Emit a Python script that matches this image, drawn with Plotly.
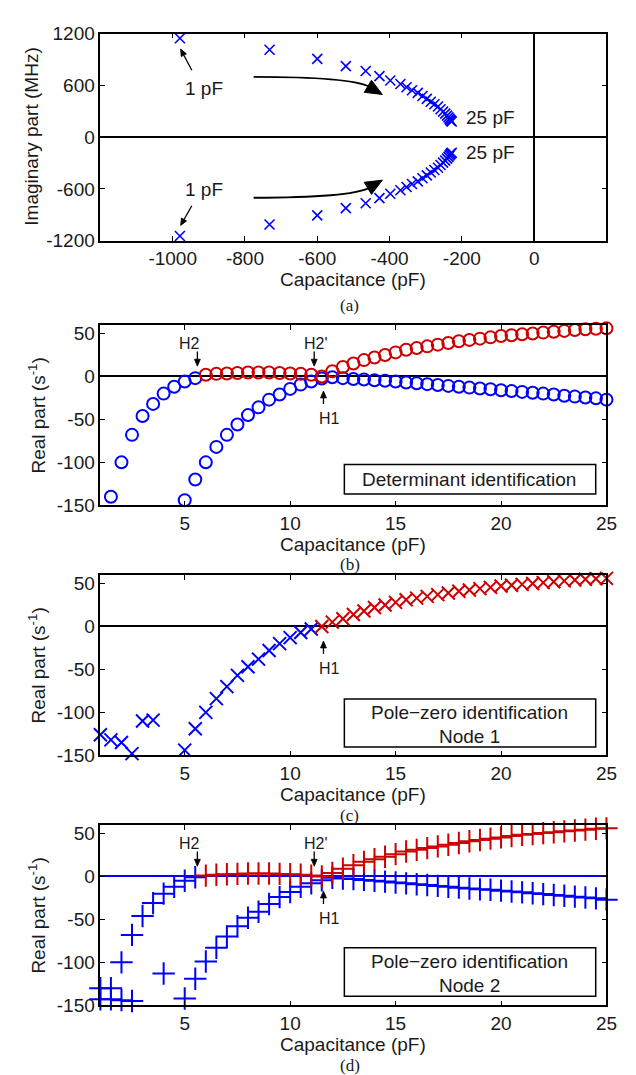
import math
import plotly.graph_objects as go

# ---------------- data ----------------
# (a) root locus, C = 1..25 pF
cap_a = list(range(1, 26))
re_a = [-980, -732, -600, -521, -466, -428, -398, -370, -353, -338, -322, -309, -297,
        -286, -276, -266, -259, -252, -246, -241, -237, -234, -232, -230, -228]
im_a = [1147, 1014, 908, 824, 767, 707, 657, 616, 578, 544, 513, 477, 443,
        411, 382, 355, 324, 296, 272, 249, 229, 212, 199, 188, 181]
im_a_conj = [-v for v in im_a]
xticks_a = [-1000, -800, -600, -400, -200, 0]
xtext_a = ["-1000", "-800", "-600", "-400", "-200", "0"]
yticks_a = [-1200, -600, 0, 600, 1200]
ytext_a = ["-1200", "-600", "0", "600", "1200"]

# (b) determinant identification
b_blue1_x = [1.5, 2, 2.5, 3, 3.5, 4, 4.5, 5, 5.5]
b_blue1_y = [-140, -100, -68, -46, -32, -20, -12, -6, -2]
b_blue2_x = [5 + 0.5 * i for i in range(41)]
b_blue2_y = [-144, -120, -100, -82, -68, -56, -45, -36, -27, -21,
             -14.5, -9.5, -6, -2.5, -1, -2, -3, -3.5, -4.5, -5,
             -6, -7, -8, -9, -10, -11, -12, -13, -14, -15,
             -16, -17, -18, -19, -20, -21, -22.5, -23.5, -24.5, -25.5, -27]
b_red_x = [6 + 0.5 * i for i in range(39)]
b_red_y = [2, 3, 3.5, 4, 4.5, 4.5, 4.5, 4, 3.5, 3,
           2, 0, 6, 11, 15, 19, 22, 25, 28, 31,
           33, 35, 37, 39, 41, 42.5, 44, 45.5, 47, 48,
           49, 50, 51, 52, 53, 54, 55, 55.5, 56]

# (c) pole-zero identification, node 1
c_blue_x = [1, 1.5, 2, 2.5, 3, 3.5, 5, 5.5, 6, 6.5, 7, 7.5, 8, 8.5, 9, 9.5, 10, 10.5, 11]
c_blue_y = [-126, -132, -135, -148, -110, -109, -144, -119, -100, -84, -70, -57,
            -47, -38, -28, -20, -13, -7, -3]
c_red_x = [11.5 + 0.5 * i for i in range(28)]
c_red_y = [0, 5, 9, 14, 18, 22, 25, 28, 31, 33,
           35, 37, 39, 41, 42.5, 44, 45.5, 47, 48, 49,
           50, 51, 52, 53, 54, 55, 55.5, 56]

# (d) pole-zero identification, node 2
d_blue1_x = [1, 1.5, 2, 2.5, 3, 3.5, 4, 4.5, 5, 5.5]
d_blue1_y = [-130, -130, -100, -68, -46, -31, -20, -12, -5, -1]
d_blue2_x = [1, 1.5, 2, 2.5, 4] + [5 + 0.5 * i for i in range(41)]
d_blue2_y = [-143, -143, -144, -145, -113,
             -142, -119, -99, -83, -70, -58, -48, -41, -32, -24, -18, -12, -8,
             -4.5, -1.5, -2.5, -3, -4, -5, -6, -7, -8, -9, -10, -11, -12, -13,
             -14, -15, -15.5, -16.5, -17.5, -18.5, -19.5, -20.5, -21.5, -22.5,
             -23.5, -24.5, -25.5, -27]
d_red_x = [6 + 0.5 * i for i in range(39)]
d_red_y = [1, 2, 2.5, 3, 3.5, 3.5, 3.5, 3, 2.5, 2,
           1, 0, 4, 9, 13, 17, 20, 23, 26, 29,
           31, 33, 35, 37, 39, 41, 42.5, 44, 45.5, 47,
           48.5, 49.5, 50.5, 51.5, 52.5, 53.5, 54.5, 55.5, 56]

xticks_r = [5, 10, 15, 20, 25]
xtext_r = ["5", "10", "15", "20", "25"]
yticks_r = [-150, -100, -50, 0, 50]
ytext_r = ["-150", "-100", "-50", "0", "50"]

# ---------------- style ----------------
W, H = 636, 1075
BLUE = "#0000ff"
RED = "#cc0000"
FONT = "Liberation Sans, Arial, Helvetica, sans-serif"
SERIF = "Liberation Serif, Times New Roman, serif"
TXT = "#1a1a1a"
FS = 19
X0, X1 = 94, 609
panels = {"a": (16, 227), "b": (313, 497), "c": (568, 752), "d": (823, 1007)}
RANGE_A = ([-1200, 200], [-1200, 1200])
RANGE_R = ([1, 25], [-150, 60])


def py(p):
    return 1 - p / H


def px(p):
    return p / W


fig = go.Figure()


def markers(x, y, xa, ya, symbol, size, color, width):
    fig.add_trace(go.Scatter(
        x=x, y=y, mode="markers", xaxis=xa, yaxis=ya, cliponaxis=False,
        marker=dict(symbol=symbol, size=size, color=color,
                    line=dict(color=color, width=width)),
        showlegend=False, hoverinfo="skip"))


# (a)
markers(re_a, im_a, "x", "y", "x-thin-open", 10, BLUE, 1.6)
markers(re_a, im_a_conj, "x", "y", "x-thin-open", 10, BLUE, 1.6)
# (b)
markers(b_blue1_x, b_blue1_y, "x2", "y2", "circle-open", 12, BLUE, 2)
markers(b_blue2_x, b_blue2_y, "x2", "y2", "circle-open", 12, BLUE, 2)
markers(b_red_x, b_red_y, "x2", "y2", "circle-open", 12, RED, 2)
# (c)
markers(c_blue_x, c_blue_y, "x3", "y3", "x-thin-open", 13, BLUE, 2)
markers(c_red_x, c_red_y, "x3", "y3", "x-thin-open", 13, RED, 2)
# (d)
markers(d_blue1_x, d_blue1_y, "x4", "y4", "cross-thin-open", 16, BLUE, 2)
markers(d_blue2_x, d_blue2_y, "x4", "y4", "cross-thin-open", 16, BLUE, 2)
markers(d_red_x, d_red_y, "x4", "y4", "cross-thin-open", 16, RED, 2)


def axis(domain, rng, tv, tt, anchor, zero=False, zcolor="black"):
    return dict(domain=domain, range=rng, tickvals=tv, ticktext=tt, anchor=anchor,
                ticks="inside", ticklen=5, tickwidth=1, tickcolor="black",
                showline=True, linecolor="black", linewidth=1.5, mirror="ticks",
                showgrid=False, zeroline=zero, zerolinecolor=zcolor, zerolinewidth=1.5,
                tickfont=dict(family=FONT, size=FS, color=TXT), fixedrange=True)


xdom = [px(X0), px(X1)]
layout_axes = {}
scale = {}
for i, (k, (top, bot)) in enumerate(panels.items()):
    n = "" if i == 0 else str(i + 1)
    ydom = [py(bot), py(top)]
    rx, ry = RANGE_A if k == "a" else RANGE_R
    scale["x" + n] = ((X1 - X0) / (rx[1] - rx[0]), (bot - top) / (ry[1] - ry[0]))
    if k == "a":
        layout_axes["xaxis"] = axis(xdom, rx, xticks_a, xtext_a, "y", zero=True)
        layout_axes["yaxis"] = axis(ydom, ry, yticks_a, ytext_a, "x", zero=True)
    else:
        layout_axes["xaxis" + n] = axis(xdom, rx, xticks_r, xtext_r, "y" + n)
        layout_axes["yaxis" + n] = axis(ydom, ry, yticks_r, ytext_r, "x" + n,
                                        zero=True, zcolor=BLUE if k == "d" else "black")

ann = []
shapes = []


def text(xr, yr, x, y, t, size=FS, family=FONT, **kw):
    ann.append(dict(xref=xr, yref=yr, x=x, y=y, text=t, showarrow=False,
                    xanchor="center", yanchor="middle",
                    font=dict(family=family, size=size, color=TXT), **kw))


def arrow(xr, yr, x, y, ax, ay, head=7.0, half=3.0, lw=1.3):
    """Straight arrow from tail (ax, ay) to tip (x, y) drawn as shapes."""
    sx, sy = scale[xr]
    dxp, dyp = (x - ax) * sx, (y - ay) * sy
    ln = math.hypot(dxp, dyp)
    ux, uy = dxp / ln, dyp / ln
    bx, by = x - head * ux / sx, y - head * uy / sy
    c1x, c1y = bx - half * uy / sx, by + half * ux / sy
    c2x, c2y = bx + half * uy / sx, by - half * ux / sy
    shapes.append(dict(type="path", xref=xr, yref=yr,
                       path=f"M {ax},{ay} L {bx},{by}",
                       line=dict(color="black", width=lw)))
    shapes.append(dict(type="path", xref=xr, yref=yr,
                       path=f"M {x},{y} L {c1x},{c1y} L {c2x},{c2y} Z",
                       fillcolor="black", line=dict(color="black", width=0.8)))


# axis titles & captions
xt_pos = {"a": 267, "b": 537, "c": 792, "d": 1047}
cap_pos = {"a": 293, "b": 557, "c": 813, "d": 1068}
xc = px((X0 + X1) / 2)
for k, (top, bot) in panels.items():
    text("paper", "paper", xc, py(xt_pos[k]), "Capacitance (pF)")
    text("paper", "paper", xc - 0.006, py(cap_pos[k]), "(" + k + ")", size=17, family=SERIF)
    ytitle = "Imaginary part (MHz)" if k == "a" else "Real part (s<sup>-1</sup>)"
    xpos = 24 if k == "a" else 30
    text("paper", "paper", px(xpos), py((top + bot) / 2), ytitle, textangle=-90)

# (a) annotations
text("x", "y", -914, 566, "1 pF")
text("x", "y", -914, -608, "1 pF")
text("x", "y", -120, 224, "25 pF")
text("x", "y", -120, -175, "25 pF")
arrow("x", "y", -978, 1021, -947, 775)
arrow("x", "y", -978, -1025, -947, -796)
shapes.append(dict(type="path", xref="x", yref="y",
                   path="M -776,699 Q -510,699 -456,585",
                   line=dict(color="black", width=1.8)))
shapes.append(dict(type="path", xref="x", yref="y",
                   path="M -776,-703 Q -510,-703 -456,-589",
                   line=dict(color="black", width=1.8)))
shapes.append(dict(type="path", xref="x", yref="y",
                   path="M -420,495 L -470,520 L -450,660 Z",
                   fillcolor="black", line=dict(color="black", width=1)))
shapes.append(dict(type="path", xref="x", yref="y",
                   path="M -420,-499 L -470,-524 L -450,-664 Z",
                   fillcolor="black", line=dict(color="black", width=1)))

# H labels
for n in ["2", "4"]:
    xr, yr = "x" + n, "y" + n
    text(xr, yr, 5.25, 38, "H2", size=16)
    arrow(xr, yr, 5.6, 12, 5.6, 29)
    text(xr, yr, 11.24, 38, "H2'", size=16)
    arrow(xr, yr, 11.14, 12, 11.14, 29)
for n in ["2", "3", "4"]:
    xr, yr = "x" + n, "y" + n
    text(xr, yr, 11.86, -49, "H1", size=16)
    arrow(xr, yr, 11.58, -17, 11.58, -32)

# legend-like boxes
shapes.append(dict(type="rect", xref="x2", yref="y2", x0=12.57, x1=24.49, y0=-136.8,
                   y1=-102.4, line=dict(color="black", width=1.5), fillcolor="white",
                   layer="above"))
text("x2", "y2", 18.5, -119.5, "Determinant identification")
for n, node, (yb, yt, l1, l2) in [("3", "Node 1", (-140.4, -84.4, -99.7, -127.7)),
                                  ("4", "Node 2", (-139.3, -83.1, -99.2, -126.4))]:
    shapes.append(dict(type="rect", xref="x" + n, yref="y" + n, x0=12.57, x1=24.49,
                       y0=yb, y1=yt, line=dict(color="black", width=1.5),
                       fillcolor="white", layer="above"))
    text("x" + n, "y" + n, 18.5, l1, "Pole\u2212zero identification")
    text("x" + n, "y" + n, 18.5, l2, node)

fig.update_layout(width=W, height=H, margin=dict(l=0, r=0, t=0, b=0),
                  paper_bgcolor="white", plot_bgcolor="white",
                  annotations=ann, shapes=shapes, showlegend=False, **layout_axes)

fig.write_html("out.html")
